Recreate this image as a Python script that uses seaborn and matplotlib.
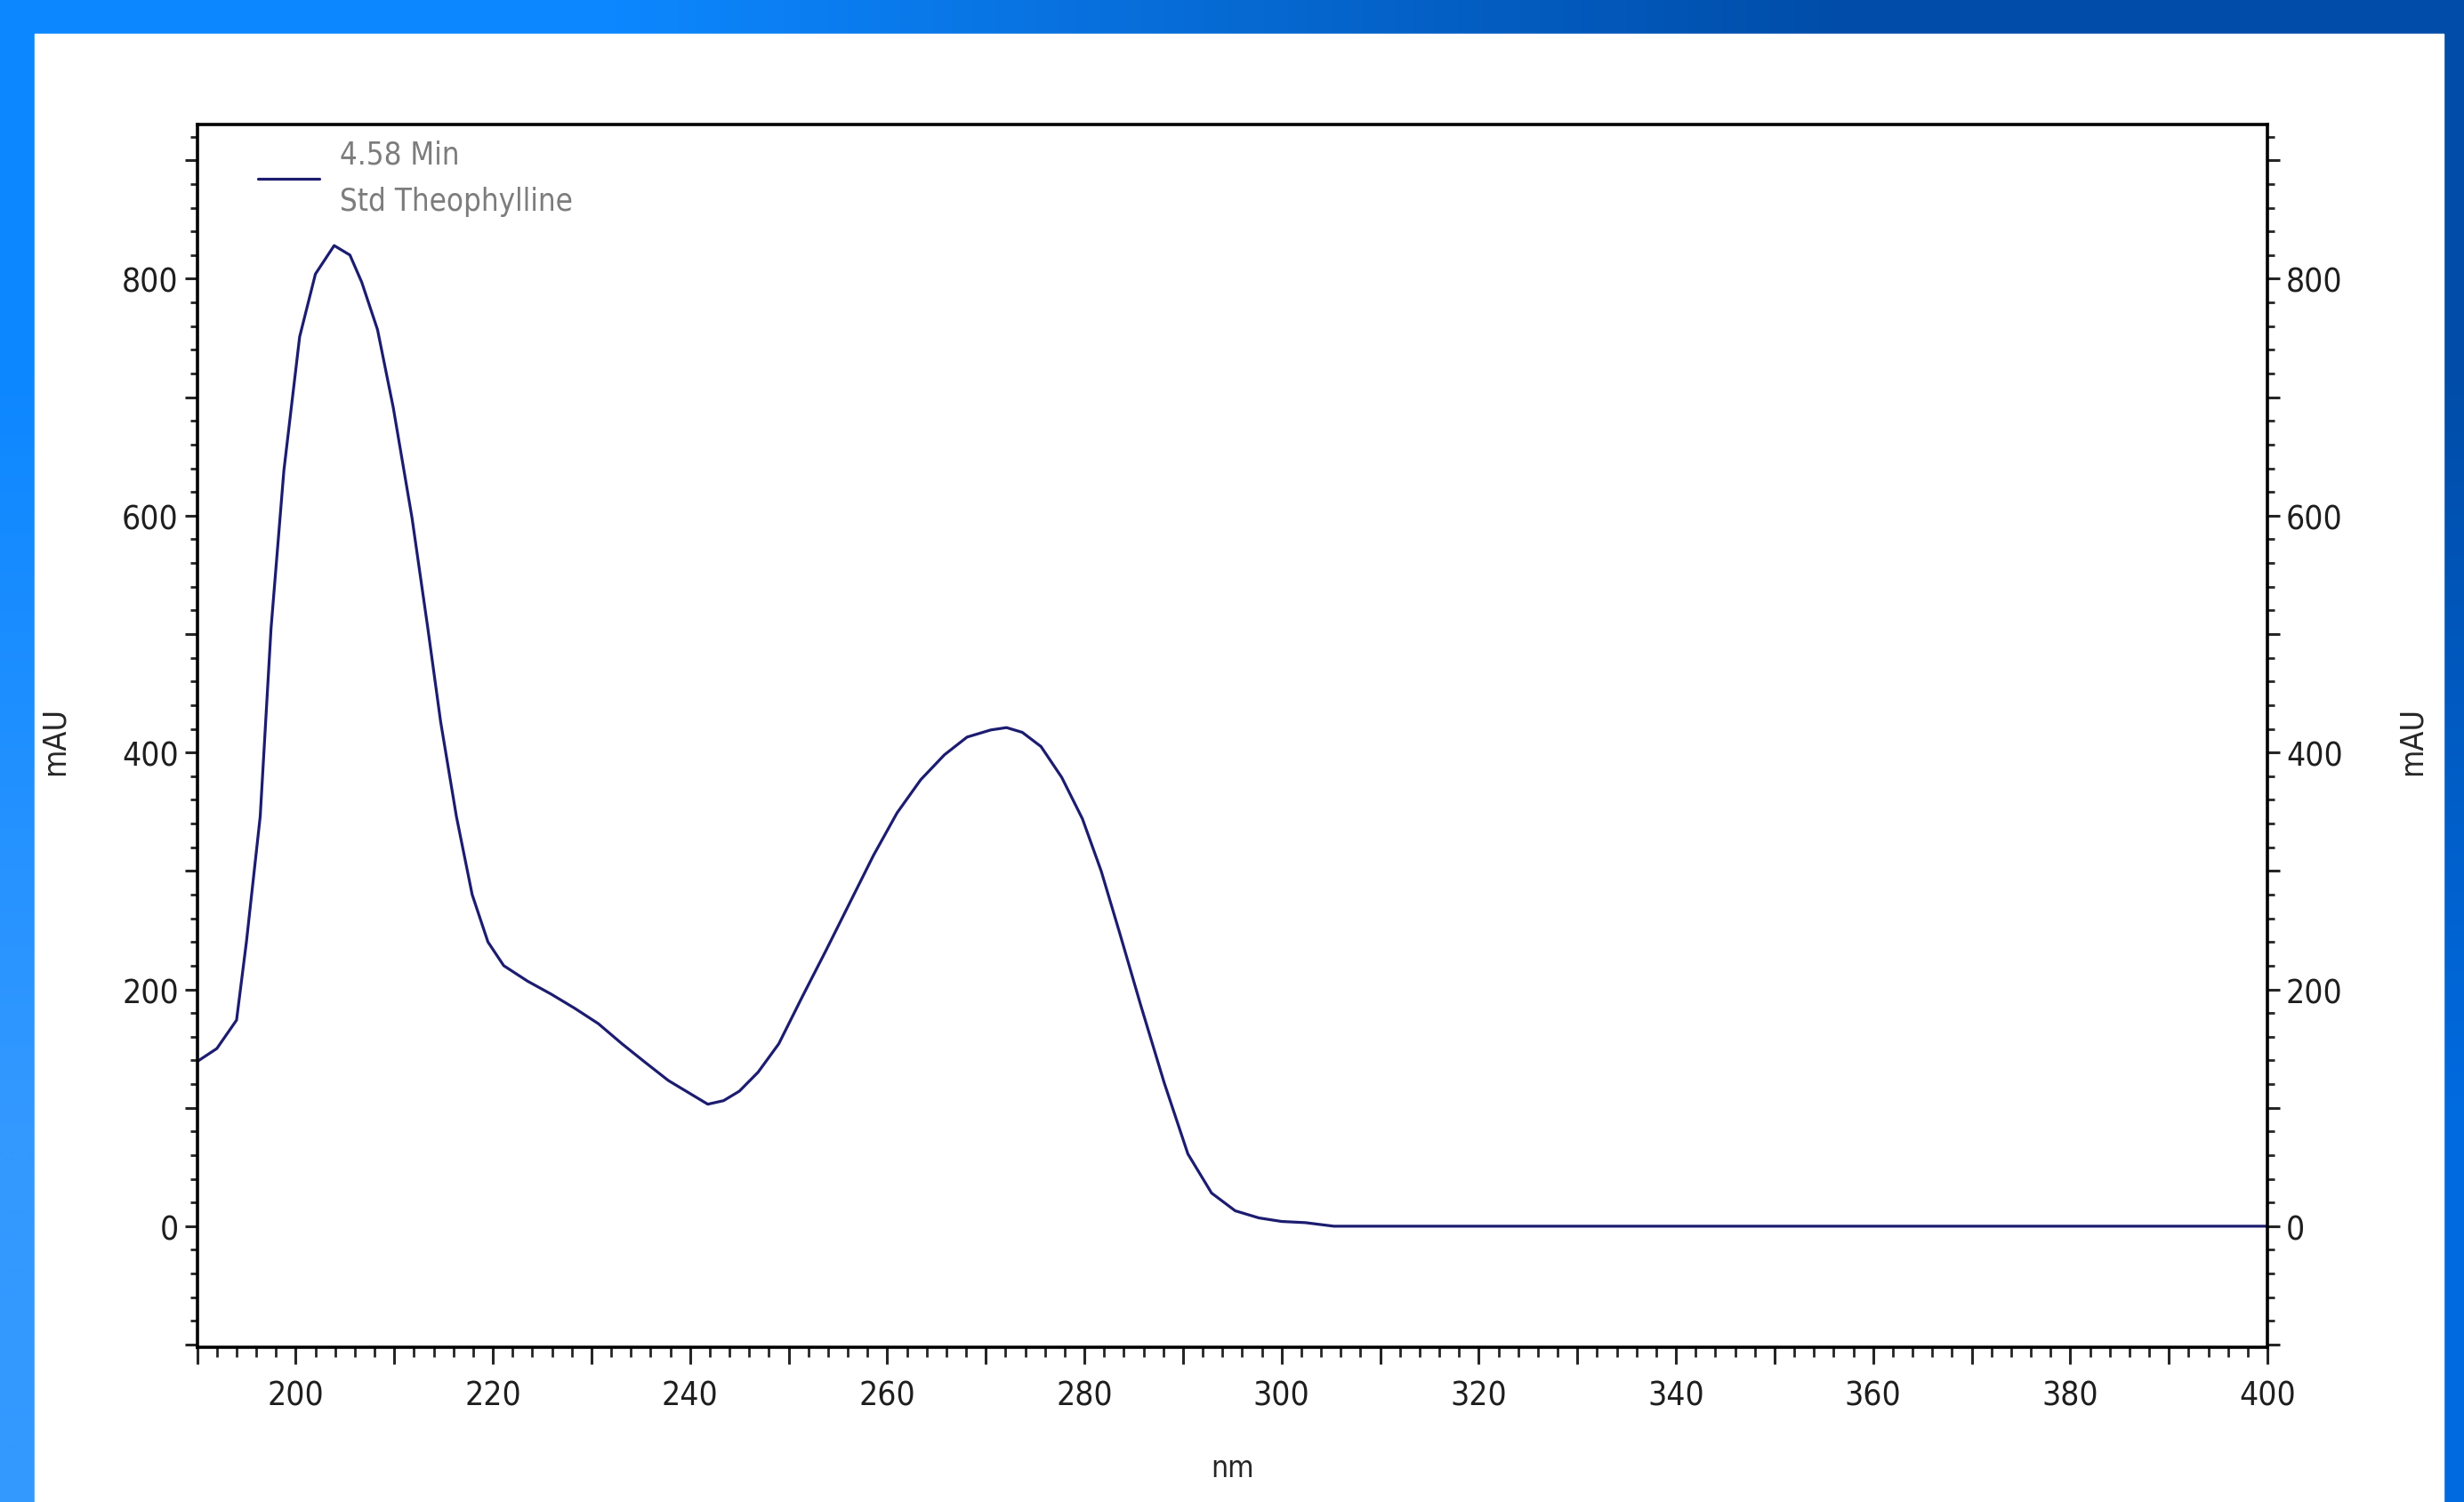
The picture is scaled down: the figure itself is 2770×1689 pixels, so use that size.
import numpy as np
import pandas as pd
import seaborn as sns
import matplotlib.pyplot as plt
from matplotlib.patches import Rectangle
from matplotlib.ticker import MultipleLocator, FuncFormatter
from matplotlib import font_manager

# UV spectrum of the theophylline standard
wavelength = [190, 192, 194, 195, 196.4, 197.5, 198.8, 200.4, 202, 203.9, 205.5, 206.7,
              208.3, 209.9, 211.8, 213.4, 214.7, 216.3, 217.9, 219.5, 221.1, 223.5,
              225.9, 228.3, 230.7, 233.1, 235.5, 237.8, 240.2, 241.8, 243.4, 245.0,
              246.9, 249.0, 251.4, 253.8, 256.2, 258.6, 261.0, 263.4, 265.8, 268.1,
              270.5, 272.1, 273.7, 275.6, 277.7, 279.8, 281.7, 283.6, 285.7, 288.1,
              290.5, 292.9, 295.3, 297.7, 300, 302.4, 305.3, 400]
mau = [139, 150, 174, 240, 346, 505, 638, 751, 804, 828, 820, 797,
       757, 691, 598, 505, 426, 346, 280, 240, 220, 207,
       196, 184, 171, 154, 138, 123, 111, 103, 106, 114,
       130, 154, 194, 233, 273, 313, 349, 377, 398, 413,
       419, 421, 417, 405, 379, 344, 300, 247, 187, 121,
       61, 28, 13, 7, 4, 3, 0, 0]
series_label = "4.58 Min\nStd Theophylline"

df = pd.DataFrame({"nm": wavelength, "mAU": mau})

sns.set_style("ticks")
plt.rcParams["font.family"] = ["Liberation Sans", "DejaVu Sans"]

# pick a narrow face for the instrument-style text
installed = {f.name for f in font_manager.fontManager.ttflist}
condensed = [f for f in font_manager.fontManager.ttflist
             if f.name == "DejaVu Sans" and "ondensed" in f.fname and "Bold" not in f.fname
             and "Oblique" not in f.fname]
if "Liberation Sans Narrow" in installed:
    narrow = dict(family="Liberation Sans Narrow")
    scale = 1.0
elif condensed:
    narrow = dict(fname=condensed[0].fname)
    scale = 0.86
else:
    narrow = dict(family="DejaVu Sans")
    scale = 0.8


def fp(size, **kw):
    return font_manager.FontProperties(size=size * scale, **narrow, **kw)


W, H = 2770, 1690
fig = plt.figure(figsize=(W / 100, H / 100), dpi=100)

# blue gradient frame + white slide panel
bg = fig.add_axes([0, 0, 1, 1], zorder=-10)
grad = np.array([[[0.05, 0.53, 1.00], [0.00, 0.30, 0.66]],
                 [[0.20, 0.60, 1.00], [0.00, 0.42, 0.88]]])
bg.imshow(grad, extent=[0, 1, 0, 1], aspect="auto", interpolation="bilinear", origin="upper")
bg.add_patch(Rectangle((39 / W, 0), (2747 - 39) / W, (H - 39) / H, color="white"))
bg.set_xlim(0, 1)
bg.set_ylim(0, 1)
bg.axis("off")

ax = fig.add_axes([221.6 / W, 1 - 1515.7 / H, (2549 - 221.6) / W, (1515.7 - 141.3) / H])
line_color = "#1c1c70"
sns.lineplot(data=df, x="nm", y="mAU", ax=ax, color=line_color, linewidth=2.3,
             label=series_label)

ax.set_xlim(190, 400)
ax.set_ylim(-102, 930)

for s in ax.spines.values():
    s.set_linewidth(2.6)
    s.set_color("black")

ax.xaxis.set_major_locator(MultipleLocator(10))
ax.xaxis.set_minor_locator(MultipleLocator(2))
ax.xaxis.set_major_formatter(FuncFormatter(lambda v, p: f"{v:.0f}" if round(v) % 20 == 0 else ""))
ax.yaxis.set_major_locator(MultipleLocator(100))
ax.yaxis.set_minor_locator(MultipleLocator(20))
ax.yaxis.set_major_formatter(FuncFormatter(lambda v, p: f"{v:.0f}" if round(v) % 200 == 0 else ""))

ax.tick_params(axis="x", which="major", direction="out", length=14, width=2.2, pad=12, top=False,
               labelcolor="#1e1e1e")
ax.tick_params(axis="x", which="minor", direction="out", length=8, width=2, top=False)
ax.tick_params(axis="y", which="major", direction="out", length=10, width=2.2, pad=5,
               left=True, right=True, labelright=True, labelcolor="#1e1e1e")
ax.tick_params(axis="y", which="minor", direction="out", length=6, width=2,
               left=True, right=True)
ax.set_xlabel("")
ax.set_ylabel("")

tick_font = fp(31)
fig.canvas.draw()
for lab in ax.get_xticklabels() + ax.yaxis.get_ticklabels() + \
        [t.label2 for t in ax.yaxis.get_major_ticks()]:
    lab.set_fontproperties(tick_font)

# axis titles
fig.text(0.5 + (784 * W / 1568 - W / 2) / W, 1 - 1652 / H, "nm",
         ha="center", va="center", fontproperties=fp(28))
fig.text(62 / W, 1 - 834 / H, "mAU", rotation=90, ha="center", va="center",
         fontproperties=fp(30))
fig.text(2712 / W, 1 - 834 / H, "mAU", rotation=90, ha="center", va="center",
         fontproperties=fp(30))

leg = ax.legend(loc="upper left", frameon=False, handlelength=2.0, handletextpad=0.65,
                bbox_to_anchor=(0.019, 1.006), borderaxespad=0.3, prop=fp(29))
for t in leg.get_texts():
    t.set_color("#7c7c7c")
    t.set_linespacing(1.7)

fig.savefig("out.png", dpi=100)
